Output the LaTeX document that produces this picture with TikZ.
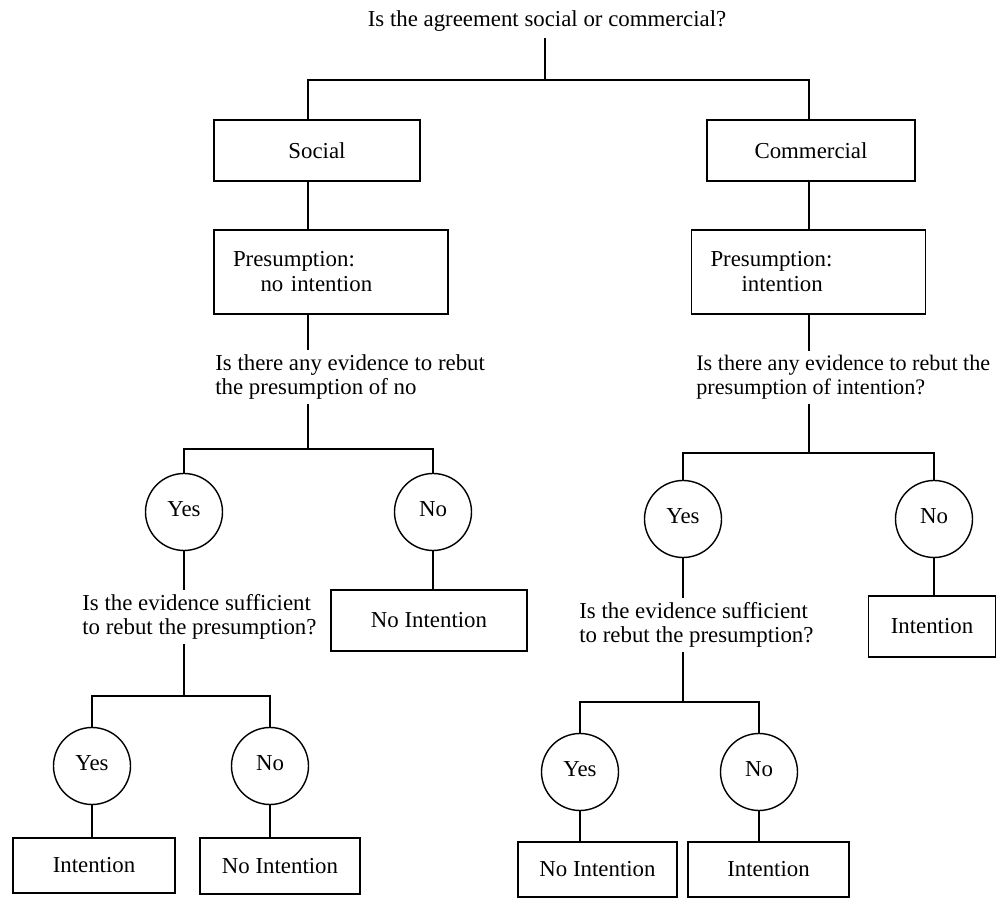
\documentclass[tikz,border=0pt]{standalone}
\usepackage{fontspec}
\setmainfont{Liberation Serif}
\usepackage{tikz}
\tikzset{
  intent-box/.style={draw=black, line width=0.8pt, align=center, inner sep=0pt,
    font=\fontsize{13}{14.2}\selectfont},
  intent-premise/.style={draw=black, line width=0.8pt, align=left, inner xsep=0.38cm, inner ysep=0pt,
    minimum height=1.68cm, text width=3.92cm, font=\fontsize{13}{14.2}\selectfont},
  intent-answer/.style={draw=black, circle, line width=0.8pt, minimum size=1.54cm, inner sep=0pt,
    font=\fontsize{13}{14.2}\selectfont},
  intent-question/.style={align=left, inner sep=2pt, font=\fontsize{13}{14.2}\selectfont},
  intent-link/.style={line width=0.7pt}
}

\begin{document}
\begin{tikzpicture}[x=1cm, y=1cm]
  \useasboundingbox (0,0) rectangle (19.94,17.98);
  \node[font=\fontsize{13}{14.2}\selectfont, anchor=base] (title) at (10.94,17.44) {Is the agreement social or commercial?};
  \coordinate (root) at (10.90,16.38);
  \coordinate (lspine) at (6.16,16.38);
  \coordinate (rspine) at (16.18,16.38);
  \node[intent-box, minimum width=4.12cm, minimum height=1.22cm] (social) at (6.34,14.97) {Social};
  \node[intent-box, minimum width=4.16cm, minimum height=1.22cm] (commercial) at (16.22,14.97) {Commercial};
  \node[intent-premise] (lpres) at (6.62,12.54) {Presumption:\\\hspace*{0.55cm}no intention};
  \node[intent-premise] (rpres) at (16.17,12.54) {Presumption:\\\hspace*{0.62cm}intention};
  % base of a two-line node sits on its last line
  \node[intent-question, anchor=base west] (lquery) at (4.23,10.08) {Is there any evidence to rebut\\the presumption of no};
  \node[intent-question, anchor=base west, font=\fontsize{12.6}{14.2}\selectfont] (rquery) at (13.85,10.08) {Is there any evidence to rebut the\\presumption of intention?};
  \coordinate (lfork) at (6.16,9.00);
  \coordinate (rfork) at (16.18,8.92);
  % yes / no answers
  \foreach \name/\x/\y/\answer in {lyes/3.68/7.74/Yes, lno/8.66/7.74/No, ryes/13.66/7.60/Yes, rno/18.68/7.60/No,
      llyes/1.84/2.66/Yes, llno/5.40/2.66/No, rlyes/11.60/2.54/Yes, rlno/15.18/2.54/No} {
    \node[intent-answer] (\name) at (\x,\y) {\raisebox{0.12cm}{\answer}};
  }
  \node[intent-question, anchor=base west] (lsuff) at (1.57,5.28) {Is the evidence sufficient\\to rebut the presumption?};
  \node[intent-question, anchor=base west] (rsuff) at (11.51,5.12) {Is the evidence sufficient\\to rebut the presumption?};
  \coordinate (llfork) at (3.68,4.06);
  \coordinate (rlfork) at (13.66,3.94);
  % outcomes
  \foreach \name/\x/\y/\w/\h/\result in {lnoleaf/8.58/5.57/3.92/1.22/No Intention, rnoleaf/18.64/5.45/2.54/1.22/Intention,
      llleaf/1.88/0.67/3.24/1.10/Intention, lrleaf/5.60/0.66/3.20/1.12/No Intention,
      rlleaf/11.95/0.59/3.18/1.10/No Intention, rrleaf/15.37/0.59/3.22/1.10/Intention} {
    \node[intent-box, minimum width=\w cm, minimum height=\h cm] (\name) at (\x,\y) {\result};
  }
  \draw[intent-link] (root |- title.south) -- (root);
  \draw[intent-link] (lspine |- social.north) -- (lspine) -- (rspine) -- (rspine |- commercial.north);
  \draw[intent-link] (lspine |- social.south) -- (lspine |- lpres.north);
  \draw[intent-link] (rspine |- commercial.south) -- (rspine |- rpres.north);
  \draw[intent-link] (lspine |- lpres.south) -- (lspine |- lquery.north);
  \draw[intent-link] (rspine |- rpres.south) -- (rspine |- rquery.north);
  \draw[intent-link] (lspine |- lquery.south) -- (lfork);
  \draw[intent-link] (rspine |- rquery.south) -- (rfork);
  \draw[intent-link] (lyes.north) -- (lyes.north |- lfork) -- (lno.north |- lfork) -- (lno.north);
  \draw[intent-link] (ryes.north) -- (ryes.north |- rfork) -- (rno.north |- rfork) -- (rno.north);
  \draw[intent-link] (lno.south) -- (lno.south |- lnoleaf.north);
  \draw[intent-link] (rno.south) -- (rno.south |- rnoleaf.north);
  \draw[intent-link] (lyes.south) -- (lyes.south |- lsuff.north);
  \draw[intent-link] (ryes.south) -- (ryes.south |- rsuff.north);
  \draw[intent-link] (lyes.south |- lsuff.south) -- (llfork);
  \draw[intent-link] (ryes.south |- rsuff.south) -- (rlfork);
  \draw[intent-link] (llyes.north) -- (llyes.north |- llfork) -- (llno.north |- llfork) -- (llno.north);
  \draw[intent-link] (rlyes.north) -- (rlyes.north |- rlfork) -- (rlno.north |- rlfork) -- (rlno.north);
  \draw[intent-link] (llyes.south) -- (llyes.south |- llleaf.north);
  \draw[intent-link] (llno.south) -- (llno.south |- lrleaf.north);
  \draw[intent-link] (rlyes.south) -- (rlyes.south |- rlleaf.north);
  \draw[intent-link] (rlno.south) -- (rlno.south |- rrleaf.north);
\end{tikzpicture}
\end{document}
